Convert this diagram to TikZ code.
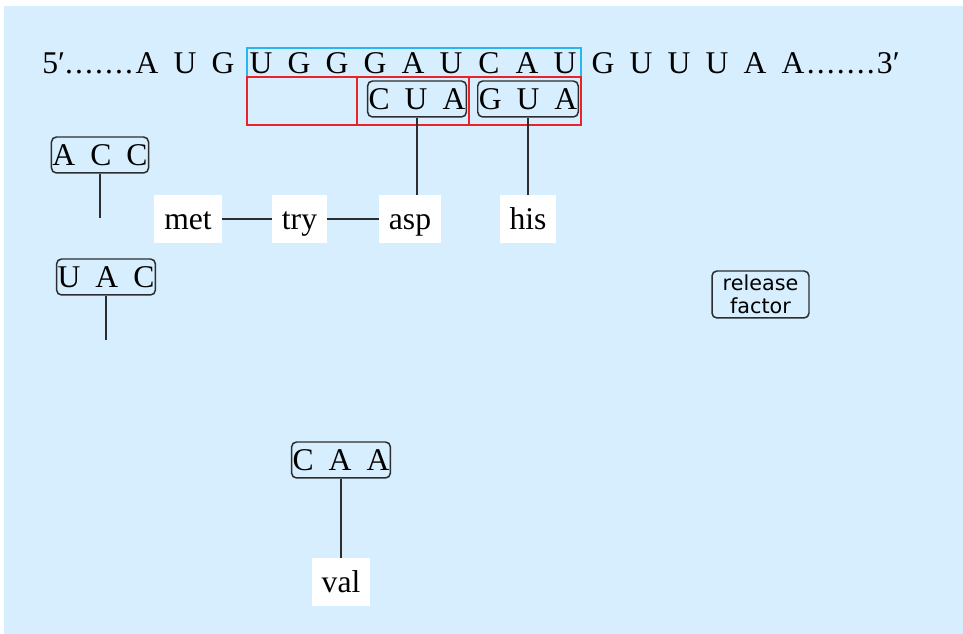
\documentclass[tikz,border=0pt]{standalone}
\usepackage{fontspec}
\setmainfont{Liberation Serif}
\newfontfamily\rfsans{DejaVu Sans}
\usepackage{tikz}
\definecolor{bgblue}{RGB}{214,238,253}
\definecolor{codonblue}{RGB}{41,182,240}
\definecolor{framered}{RGB}{235,35,40}
\definecolor{stem}{RGB}{45,45,45}
\newcommand{\trip}[3]{#1\hspace{0.3cm}#2\hspace{0.3cm}#3}
\newcommand{\dotrun}{.\kern1.2pt.\kern1.2pt.\kern1.2pt.\kern1.2pt.\kern1.2pt.\kern1.2pt.}

\begin{document}
\begin{tikzpicture}[x=0.02cm,y=-0.02cm,
	font=\fontsize{18}{21}\selectfont,
	base/.style={inner sep=0pt,anchor=base},
	trna/.style={draw=stem,line width=0.85pt,rounded corners=2.8pt,inner xsep=0.02cm,inner ysep=0pt,minimum height=0.72cm},
	amino/.style={fill=white,inner xsep=0.2cm,inner ysep=0.19cm,text height=13.9pt,text depth=2.3pt},
	stick/.style={draw=stem,line width=1.1pt}]
	\useasboundingbox (0,0) rectangle (963,634);
	\fill[bgblue] (4,6) rectangle (963,634);
	% mRNA strand
	\foreach \b [count=\i from 0] in {A,U,G,U,G,G,G,A,U,C,A,U,G,U,U,U,A,A}
		\node[base] (s\i) at (147+38*\i,74) {\b};
	\node[base,anchor=base east] (five) at (s0.base west) {5′\dotrun\kern1pt};
	\node[base,anchor=base west] (three) at (s17.base east) {\kern1pt\dotrun\kern1.2pt3′};
	\draw[codonblue,line width=0.85pt] (247,48) rectangle (581,77);
	\draw[framered,line width=0.85pt] (247,77) rectangle (357,125) (357,77) rectangle (469,125) (469,77) rectangle (581,125);
	% tRNAs
	\node[trna] (cua) at (417,99) {\trip CUA};
	\node[trna] (gua) at (528,99) {\trip GUA};
	\node[trna] (acc) at (100,155) {\trip ACC};
	\node[trna] (uac) at (106,277) {\trip UAC};
	\node[trna] (caa) at (341,460) {\trip CAA};
	\node[trna,align=center,font=\rfsans\fontsize{11.8}{13}\selectfont,minimum width=1.94cm,minimum height=0.94cm] (rf) at (760.5,294.5) {release\\factor};
	% amino acids
	\node[amino] (met) at (188,219) {met};
	\node[amino] (try) at (299.5,219) {try};
	\node[amino] (asp) at (410,219) {asp};
	\node[amino] (his) at (528,219) {his};
	\node[amino] (val) at (341,582) {val};
	\coordinate (accend) at (100,218);
	\coordinate (uacend) at (106,340);
	\draw[stick] (acc) -- (accend);
	\draw[stick] (uac) -- (uacend);
	\draw[stick] (met) -- (try) -- (asp);
	\draw[stick] (cua) -- (cua |- asp.north);
	\draw[stick] (gua) -- (his);
	\draw[stick] (caa) -- (val);
\end{tikzpicture}
\end{document}
